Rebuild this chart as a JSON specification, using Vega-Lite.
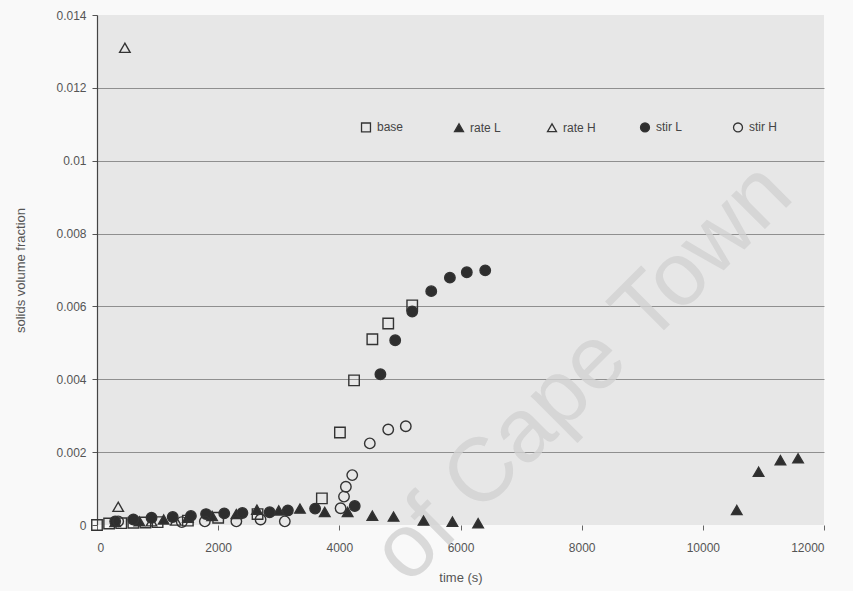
{
  "$schema": "https://vega.github.io/schema/vega-lite/v6.json",
  "width": 727,
  "height": 510,
  "autosize": "none",
  "padding": {"left": 97, "top": 15, "right": 29, "bottom": 66},
  "background": "#f9f9f9",
  "config": {
    "view": {"fill": "#e7e7e7", "stroke": null},
    "font": "Liberation Sans",
    "axis": {"labelFont": "Liberation Sans", "labelFontSize": 12, "labelColor": "#555", "titleFont": "Liberation Sans", "titleFontSize": 13, "titleFontWeight": "normal", "titleColor": "#555"},
    "legend": {"labelFont": "Liberation Sans", "labelFontSize": 12, "labelColor": "#444", "padding": 0}
  },
  "datasets": {
    "pts": [
      {"series": "base", "t": 0, "v": 0.0},
      {"series": "base", "t": 200, "v": 0.00004},
      {"series": "base", "t": 400, "v": 0.00005},
      {"series": "base", "t": 600, "v": 0.00006},
      {"series": "base", "t": 800, "v": 0.00007},
      {"series": "base", "t": 1000, "v": 0.00008},
      {"series": "base", "t": 1500, "v": 0.00012},
      {"series": "base", "t": 2000, "v": 0.0002},
      {"series": "base", "t": 2650, "v": 0.0003},
      {"series": "base", "t": 3712, "v": 0.00073},
      {"series": "base", "t": 4010, "v": 0.00254},
      {"series": "base", "t": 4243, "v": 0.00397},
      {"series": "base", "t": 4545, "v": 0.0051},
      {"series": "base", "t": 4807, "v": 0.00553},
      {"series": "base", "t": 5203, "v": 0.00603},
      {"series": "rate L", "t": 300, "v": 0.00008},
      {"series": "rate L", "t": 700, "v": 0.0001},
      {"series": "rate L", "t": 1100, "v": 0.00015},
      {"series": "rate L", "t": 1500, "v": 0.0002},
      {"series": "rate L", "t": 1900, "v": 0.00025},
      {"series": "rate L", "t": 2300, "v": 0.0003},
      {"series": "rate L", "t": 2640, "v": 0.00042},
      {"series": "rate L", "t": 3000, "v": 0.0004},
      {"series": "rate L", "t": 3350, "v": 0.00045},
      {"series": "rate L", "t": 3759, "v": 0.00036},
      {"series": "rate L", "t": 4137, "v": 0.00036},
      {"series": "rate L", "t": 4545, "v": 0.000255},
      {"series": "rate L", "t": 4895, "v": 0.00023},
      {"series": "rate L", "t": 5390, "v": 0.00012},
      {"series": "rate L", "t": 5867, "v": 0.00009},
      {"series": "rate L", "t": 6291, "v": 0.00005},
      {"series": "rate L", "t": 10560, "v": 0.00041},
      {"series": "rate L", "t": 10920, "v": 0.00146},
      {"series": "rate L", "t": 11281, "v": 0.00178},
      {"series": "rate L", "t": 11572, "v": 0.00183},
      {"series": "rate H", "t": 350, "v": 0.0005},
      {"series": "rate H", "t": 460, "v": 0.0131},
      {"series": "rate H", "t": 900, "v": 0.0001},
      {"series": "rate H", "t": 1300, "v": 0.00012},
      {"series": "stir L", "t": 300, "v": 0.0001},
      {"series": "stir L", "t": 600, "v": 0.00015},
      {"series": "stir L", "t": 900, "v": 0.0002},
      {"series": "stir L", "t": 1250, "v": 0.00022},
      {"series": "stir L", "t": 1550, "v": 0.00025},
      {"series": "stir L", "t": 1800, "v": 0.0003},
      {"series": "stir L", "t": 2100, "v": 0.00032},
      {"series": "stir L", "t": 2400, "v": 0.00033},
      {"series": "stir L", "t": 2850, "v": 0.00035},
      {"series": "stir L", "t": 3150, "v": 0.0004},
      {"series": "stir L", "t": 3600, "v": 0.00045},
      {"series": "stir L", "t": 4254, "v": 0.00052},
      {"series": "stir L", "t": 4678, "v": 0.00414},
      {"series": "stir L", "t": 4922, "v": 0.00507},
      {"series": "stir L", "t": 5203, "v": 0.00586},
      {"series": "stir L", "t": 5517, "v": 0.00642},
      {"series": "stir L", "t": 5825, "v": 0.00679},
      {"series": "stir L", "t": 6104, "v": 0.00694},
      {"series": "stir L", "t": 6408, "v": 0.00699},
      {"series": "stir H", "t": 350, "v": 0.0001},
      {"series": "stir H", "t": 1400, "v": 0.00008},
      {"series": "stir H", "t": 1780, "v": 0.0001},
      {"series": "stir H", "t": 2300, "v": 0.0001},
      {"series": "stir H", "t": 2700, "v": 0.00015},
      {"series": "stir H", "t": 3100, "v": 0.0001},
      {"series": "stir H", "t": 4021, "v": 0.00046},
      {"series": "stir H", "t": 4077, "v": 0.00078},
      {"series": "stir H", "t": 4108, "v": 0.00105},
      {"series": "stir H", "t": 4213, "v": 0.00137},
      {"series": "stir H", "t": 4503, "v": 0.00224},
      {"series": "stir H", "t": 4807, "v": 0.00262},
      {"series": "stir H", "t": 5097, "v": 0.00271}
    ],
    "mark": [
      {"label": "of Cape Town", "t": 8020, "v": 0.00417}
    ]
  },
  "layer": [
    {
      "data": {"name": "mark"},
      "mark": {"type": "text", "angle": -45, "fontSize": 90, "font": "Liberation Sans", "color": "#d2d2d2", "opacity": 0.8, "align": "center", "baseline": "middle"},
      "encoding": {
        "x": {"field": "t", "type": "quantitative"},
        "y": {"field": "v", "type": "quantitative"},
        "text": {"field": "label"}
      }
    },
    {
      "data": {"name": "pts"},
      "mark": {"type": "point", "strokeWidth": 1.4, "size": 110, "opacity": 1},
      "encoding": {
        "x": {
          "field": "t", "type": "quantitative",
          "scale": {"domain": [0, 12000], "nice": false, "zero": false},
          "axis": {"title": "time (s)", "values": [0, 2000, 4000, 6000, 8000, 10000, 12000], "format": "d", "grid": false, "domain": false, "tickColor": "#666", "tickSize": 5, "labelPadding": 12, "titlePadding": 18}
        },
        "y": {
          "field": "v", "type": "quantitative",
          "scale": {"domain": [0, 0.014], "nice": false},
          "axis": {"title": "solids volume fraction", "values": [0, 0.002, 0.004, 0.006, 0.008, 0.01, 0.012, 0.014], "format": "~g", "grid": true, "gridColor": "#8f8f8f", "gridOpacity": {"condition": {"test": "datum.value == 0 || datum.value == 0.014", "value": 0}, "value": 1}, "domainColor": "#444", "domainWidth": 1.2, "tickColor": "#555", "tickSize": 5, "labelPadding": 6, "titlePadding": 28}
        },
        "shape": {
          "field": "series", "type": "nominal",
          "scale": {"domain": ["base", "rate L", "rate H", "stir L", "stir H"], "range": ["square", "triangle-up", "triangle-up", "circle", "circle"]},
          "legend": {"title": null, "orient": "none", "legendX": 263, "legendY": 106, "direction": "horizontal", "columns": 5, "gridAlign": "all", "columnPadding": 41, "symbolStrokeWidth": 1.3, "symbolSize": 80, "labelOffset": 5}
        },
        "fill": {
          "field": "series", "type": "nominal",
          "scale": {"domain": ["base", "rate L", "rate H", "stir L", "stir H"], "range": ["transparent", "#2e2e2e", "transparent", "#2e2e2e", "transparent"]},
          "legend": {"title": null, "orient": "none", "legendX": 263, "legendY": 106, "direction": "horizontal", "columns": 5, "gridAlign": "all", "columnPadding": 41, "symbolStrokeWidth": 1.3, "symbolSize": 80, "labelOffset": 5}
        },
        "stroke": {
          "field": "series", "type": "nominal",
          "scale": {"domain": ["base", "rate L", "rate H", "stir L", "stir H"], "range": ["#333333", "#333333", "#333333", "#333333", "#333333"]},
          "legend": {"title": null, "orient": "none", "legendX": 263, "legendY": 106, "direction": "horizontal", "columns": 5, "gridAlign": "all", "columnPadding": 41, "symbolStrokeWidth": 1.3, "symbolSize": 80, "labelOffset": 5}
        }
      }
    }
  ]
}
